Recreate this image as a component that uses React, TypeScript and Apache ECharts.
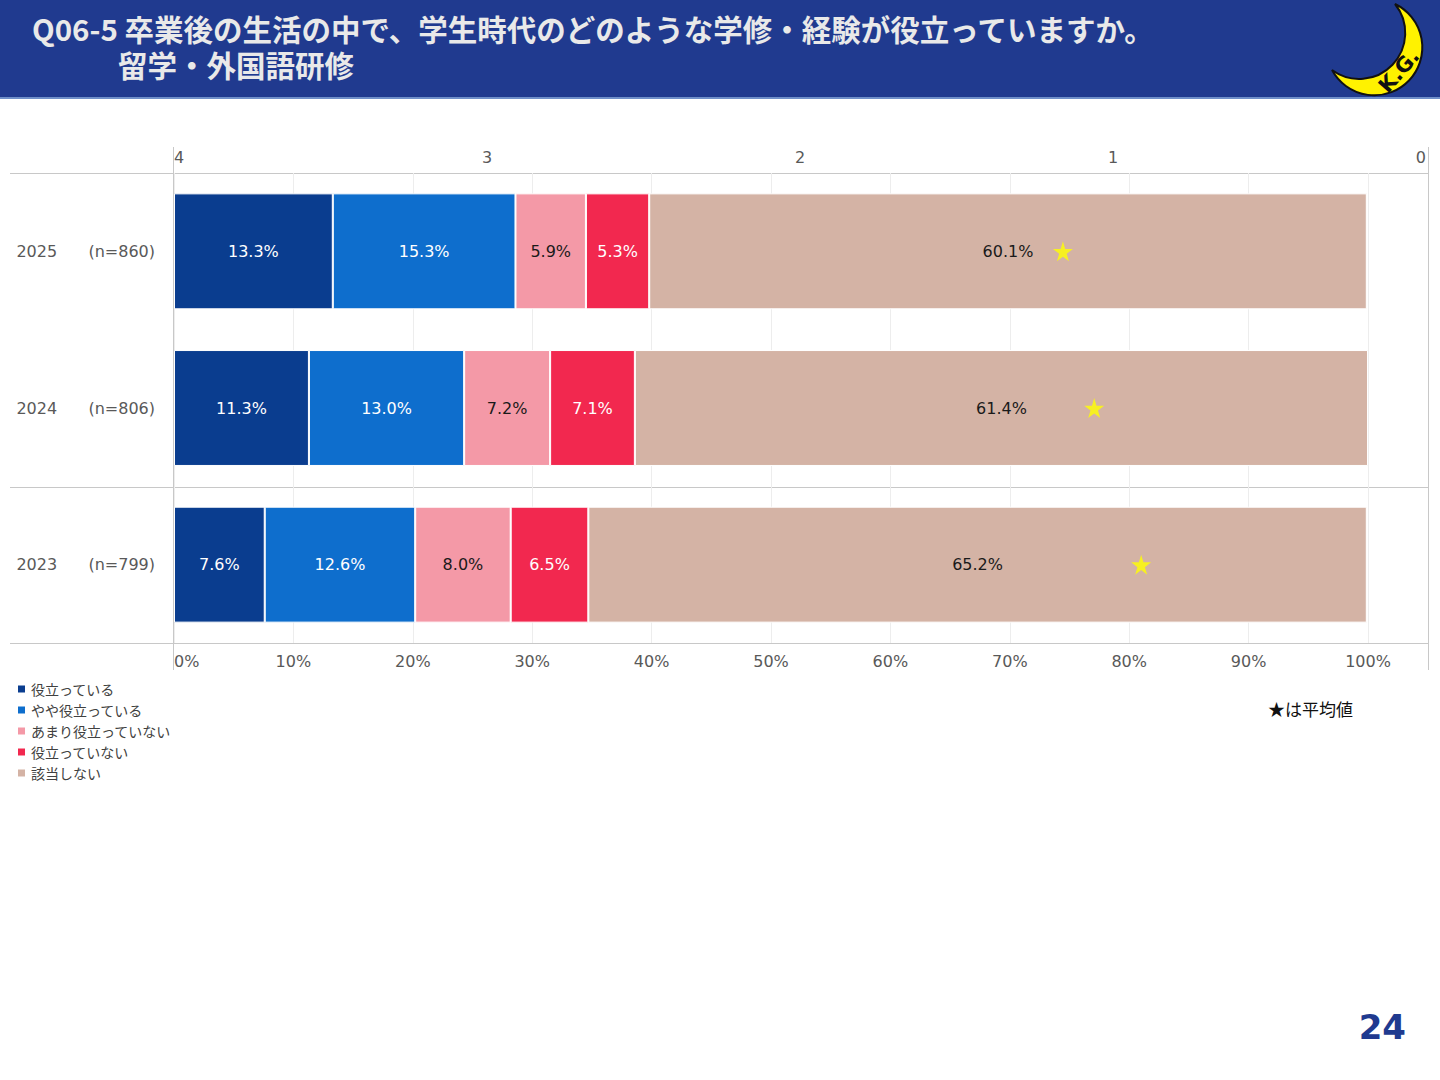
import { useEffect, useRef } from "react";
import * as echarts from "echarts";

const years = ["2025", "2024", "2023"];
const sampleSizes = ["(n=860)", "(n=806)", "(n=799)"];

const seriesNames = [
  "役立っている",
  "やや役立っている",
  "あまり役立っていない",
  "役立っていない",
  "該当しない",
];
const useful = [13.3, 11.3, 7.6];
const somewhatUseful = [15.3, 13.0, 12.6];
const notVeryUseful = [5.9, 7.2, 8.0];
const notUseful = [5.3, 7.1, 6.5];
const notApplicable = [60.1, 61.4, 65.2];

// average score on the 4..0 scale (read from star positions)
const averages = [1.16, 1.06, 0.91];

const percentTicks = [0, 10, 20, 30, 40, 50, 60, 70, 80, 90, 100];
const scoreTicks = [4, 3, 2, 1, 0];

const COLORS = ["#0A3D8F", "#0E6ECD", "#F499A7", "#F2284F", "#D4B3A5"];
const LABEL_COLORS = ["#ffffff", "#ffffff", "#1a1a1a", "#ffffff", "#1a1a1a"];
const NUM_FONT = "'DejaVu Sans', 'Noto Sans CJK JP', sans-serif";
const JP_FONT = "'Noto Sans CJK JP', sans-serif";

const moonPath =
  "M1395 4 A48 48 0 1 1 1332 70 A46 46 0 0 0 1395 4 Z";
const STAR =
  "path://M50,0 L61,35 L98,35 L68,57 L79,91 L50,70 L21,91 L32,57 L2,35 L39,35 Z";

echarts.graphic.registerShape("moon", echarts.graphic.extendPath(moonPath, {}));

export default function App() {
  const chartRef = useRef<HTMLDivElement>(null);

  useEffect(() => {
    if (!chartRef.current) return;
    const chart = echarts.init(chartRef.current, undefined, { renderer: "svg" });

    const values = [useful, somewhatUseful, notVeryUseful, notUseful, notApplicable];

    const frameLine = (x1: number, y1: number, x2: number, y2: number) => ({
      type: "line",
      shape: { x1, y1, x2, y2 },
      style: { stroke: "#c8c8c8", lineWidth: 1 },
      silent: true,
    });

    const option: echarts.EChartsOption = {
      animation: false,
      backgroundColor: "#ffffff",
      textStyle: { fontFamily: NUM_FONT },
      legend: {
        orient: "vertical",
        left: 11,
        top: 677,
        itemWidth: 9,
        itemHeight: 9,
        itemGap: 7,
        icon: "rect",
        data: seriesNames,
        textStyle: { color: "#404040", fontSize: 14, fontFamily: JP_FONT },
      },
      grid: [
        { left: 174, right: 72, top: 173, bottom: 437 },
        { left: 174, right: 14, top: 173, bottom: 437 },
      ],
      xAxis: [
        {
          type: "value",
          gridIndex: 0,
          position: "bottom",
          min: 0,
          max: 100,
          interval: 10,
          axisLine: { show: false },
          axisTick: { show: false },
          axisLabel: {
            color: "#595959",
            fontSize: 16,
            margin: 10,
            alignMinLabel: "left",
            formatter: (v: number) =>
              percentTicks.includes(v) ? `${v}%` : "",
          },
          splitLine: { lineStyle: { color: "#ededed", width: 1 } },
        },
        {
          type: "value",
          gridIndex: 1,
          position: "top",
          min: 0,
          max: 4,
          interval: 1,
          inverse: true,
          axisLine: { show: false },
          axisTick: { show: false },
          axisLabel: {
            color: "#595959",
            fontSize: 16,
            margin: 8,
            alignMinLabel: "right",
            alignMaxLabel: "left",
            formatter: (v: number) => (scoreTicks.includes(v) ? `${v}` : ""),
          },
          splitLine: { show: false },
        },
      ],
      yAxis: [
        {
          type: "category",
          gridIndex: 0,
          data: years,
          inverse: true,
          axisLine: { show: false },
          axisTick: { show: false },
          axisLabel: {
            margin: 19,
            formatter: (v: string) => {
              const i = years.indexOf(v);
              return `{y|${v}}{n|${sampleSizes[i]}}`;
            },
            rich: {
              y: { width: 72, align: "left", color: "#595959", fontSize: 16, fontFamily: NUM_FONT },
              n: { color: "#595959", fontSize: 16, fontFamily: NUM_FONT },
            },
          },
        },
        {
          type: "category",
          gridIndex: 1,
          data: years,
          inverse: true,
          show: false,
        },
      ],
      series: [
        ...seriesNames.map((name, si) => ({
          name,
          type: "bar" as const,
          stack: "total",
          xAxisIndex: 0,
          yAxisIndex: 0,
          barWidth: "74%",
          data: values[si],
          itemStyle: {
            color: COLORS[si],
            borderColor: "#ffffff",
            borderWidth: 1,
          },
          label: {
            show: true,
            position: "inside" as const,
            color: LABEL_COLORS[si],
            fontSize: 16,
            fontFamily: NUM_FONT,
            formatter: (p: any) => `${Number(p.value).toFixed(1)}%`,
          },
        })),
        {
          name: "平均値",
          type: "scatter",
          xAxisIndex: 1,
          yAxisIndex: 1,
          symbol: STAR,
          symbolSize: 20,
          itemStyle: { color: "#FFFF00" },
          data: averages.map((a, i) => [a, years[i]]),
          silent: true,
          z: 10,
        },
      ],
      graphic: [
        {
          type: "rect",
          shape: { x: 0, y: 0, width: 1440, height: 97 },
          style: { fill: "#203A8F" },
          silent: true,
        },
        {
          type: "rect",
          shape: { x: 0, y: 97, width: 1440, height: 2 },
          style: { fill: "#6F8FC9" },
          silent: true,
        },
        {
          type: "text",
          x: 32,
          y: 28,
          style: {
            text: "Q06-5 卒業後の生活の中で、学生時代のどのような学修・経験が役立っていますか。",
            fill: "#e9e9e9",
            font: `bold 29.5px ${JP_FONT}`,
            verticalAlign: "middle",
          },
          silent: true,
        },
        {
          type: "text",
          x: 118,
          y: 64,
          style: {
            text: "留学・外国語研修",
            fill: "#e9e9e9",
            font: `bold 29.5px ${JP_FONT}`,
            verticalAlign: "middle",
          },
          silent: true,
        },
        {
          type: "moon",
          x: 0,
          y: 0,
          style: { fill: "#FFF200", stroke: "#111111", lineWidth: 2 },
          silent: true,
        },
        {
          type: "text",
          x: 1399,
          y: 71,
          rotation: 0.85,
          style: {
            text: "K.G.",
            fill: "#111111",
            font: `bold 21px ${NUM_FONT}`,
            align: "center",
            verticalAlign: "middle",
          },
          silent: true,
        },
        frameLine(10, 173.5, 1428, 173.5),
        frameLine(10, 487.5, 1428, 487.5),
        frameLine(10, 643.5, 1428, 643.5),
        frameLine(173.5, 147, 173.5, 670),
        frameLine(1428.5, 147, 1428.5, 670),
        {
          type: "text",
          x: 1268,
          y: 708,
          style: {
            text: "★は平均値",
            fill: "#111111",
            font: `17px ${JP_FONT}`,
            verticalAlign: "middle",
          },
          silent: true,
        },
        {
          type: "text",
          x: 1406,
          y: 1027,
          style: {
            text: "24",
            fill: "#203A8F",
            font: `bold 34px ${NUM_FONT}`,
            align: "right",
            verticalAlign: "middle",
          },
          silent: true,
        },
      ],
    };

    chart.setOption(option);

    return () => {
      chart.dispose();
    };
  }, []);

  return (
    <div
      ref={chartRef}
      style={{ position: "absolute", left: 0, top: 0, width: 1440, height: 1080 }}
    />
  );
}
